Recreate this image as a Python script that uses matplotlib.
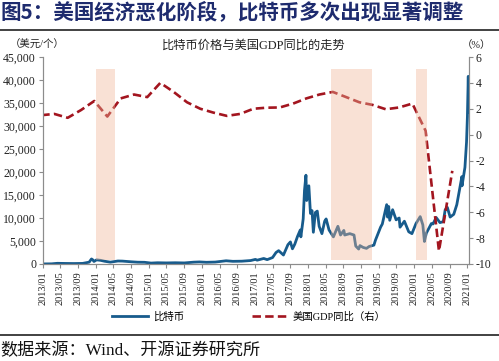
import matplotlib
matplotlib.use("Agg")
import matplotlib.pyplot as plt
from matplotlib.ticker import FuncFormatter, MultipleLocator
from matplotlib.lines import Line2D
import pandas as pd

# ---------------- data ----------------
btc_dates = [
    "2013-01-01", "2013-03-01", "2013-04-10", "2013-06-01", "2013-08-01", "2013-10-01",
    "2013-11-15", "2013-12-01", "2013-12-10", "2013-12-18", "2014-01-05", "2014-02-01",
    "2014-03-01", "2014-04-10", "2014-06-01", "2014-07-01", "2014-09-01", "2014-10-15",
    "2014-12-01", "2015-01-15", "2015-03-01", "2015-05-01", "2015-07-01", "2015-09-01",
    "2015-11-05", "2015-12-15", "2016-02-01", "2016-04-01", "2016-06-15", "2016-08-01",
    "2016-10-01", "2016-12-01", "2017-01-03", "2017-01-15", "2017-03-01", "2017-03-25",
    "2017-05-01", "2017-05-25", "2017-06-12", "2017-07-15", "2017-08-15", "2017-09-01",
    "2017-09-15", "2017-10-01", "2017-10-20", "2017-11-08", "2017-11-12", "2017-11-28",
    "2017-12-07", "2017-12-17", "2017-12-22", "2018-01-06", "2018-01-17", "2018-01-28",
    "2018-02-06", "2018-02-20", "2018-03-05", "2018-03-18", "2018-04-06", "2018-04-25",
    "2018-05-05", "2018-05-25", "2018-06-24", "2018-07-25", "2018-08-12", "2018-09-04",
    "2018-09-10", "2018-10-15", "2018-11-13", "2018-11-25", "2018-12-15", "2018-12-24",
    "2019-01-15", "2019-02-07", "2019-02-25", "2019-03-30", "2019-04-10", "2019-05-15",
    "2019-05-27", "2019-06-26", "2019-07-02", "2019-07-10", "2019-07-17", "2019-08-06",
    "2019-08-30", "2019-09-20", "2019-09-26", "2019-10-26", "2019-11-25", "2019-12-17",
    "2020-01-14", "2020-02-12", "2020-03-01", "2020-03-12", "2020-03-25", "2020-04-29",
    "2020-05-10", "2020-06-01", "2020-06-27", "2020-07-20", "2020-08-02", "2020-08-17",
    "2020-09-05", "2020-09-30", "2020-10-21", "2020-11-05", "2020-11-25", "2020-11-26",
    "2020-12-16", "2020-12-27", "2021-01-02", "2021-01-08", "2021-01-11", "2021-01-13",
]
btc_price = [
    13, 35, 150, 120, 100, 130,
    400, 1100, 900, 550, 900, 800,
    600, 400, 650, 630, 480, 390,
    370, 200, 270, 235, 270, 230,
    400, 450, 370, 420, 700, 580,
    610, 750, 1000, 830, 1200, 950,
    1400, 2500, 2900, 1950, 4200, 4800,
    3300, 4300, 6000, 7400, 5900, 9800,
    16000, 19300, 13800, 17000, 11000, 11600,
    6900, 11200, 11500, 8200, 6600, 9300,
    9800, 7400, 5900, 8200, 6300, 7300,
    6300, 6600, 6300, 3900, 3250, 4000,
    3600, 3400, 3800, 4100, 5200, 8000,
    8700, 12900, 10200, 12500, 9500, 11800,
    9600, 10000, 8000, 9300, 7000, 6600,
    8800, 10300, 8500, 4900, 6700, 8800,
    8700, 10100, 9000, 9200, 11800, 12300,
    10200, 10800, 12900, 15500, 19000, 17000,
    21000, 26500, 32000, 40800, 33000, 37000,
]

gdp_dates = [
    "2012-12-20", "2013-03-20", "2013-06-20", "2013-09-20", "2013-12-20",
    "2014-03-20", "2014-06-20", "2014-09-20", "2014-12-20",
    "2015-03-20", "2015-06-20", "2015-09-20", "2015-12-20",
    "2016-03-20", "2016-06-20", "2016-09-20", "2016-12-20",
    "2017-03-20", "2017-06-20", "2017-09-20", "2017-12-20",
    "2018-03-20", "2018-06-20", "2018-09-20", "2018-12-20",
    "2019-03-20", "2019-06-20", "2019-09-20", "2019-12-20",
    "2020-03-20", "2020-06-20", "2020-09-20",
]
gdp_yoy = [
    1.5, 1.6, 1.3, 1.9, 2.6,
    1.4, 2.8, 3.1, 2.9,
    4.0, 3.3, 2.5, 2.0,
    1.7, 1.45, 1.6, 2.0,
    2.08, 2.1, 2.4, 2.8,
    3.1, 3.3, 2.9, 2.5,
    2.3, 1.96, 2.1, 2.4,
    0.3, -9.0, -2.8,
]

shade_periods = [("2014-01-01", "2014-05-10"), ("2018-06-05", "2019-03-20"), ("2020-01-15", "2020-03-31")]

xtick_labels = ["2013/01", "2013/05", "2013/09", "2014/01", "2014/05", "2014/09", "2015/01",
                "2015/05", "2015/09", "2016/01", "2016/05", "2016/09", "2017/01", "2017/05",
                "2017/09", "2018/01", "2018/05", "2018/09", "2019/01", "2019/05", "2019/09",
                "2020/01", "2020/05", "2020/09", "2021/01"]

# ---------------- styling ----------------
SERIF_CJK = ["Liberation Serif", "Noto Sans CJK SC"]
plt.rcParams["font.family"] = SERIF_CJK
BLUE = "#175B8C"
RED = "#A3151F"
SHADE = "#F0B698"

fig = plt.figure(figsize=(4.99, 3.61), dpi=100)
ax = fig.add_axes([43 / 499, 1 - 264 / 361, (469 - 43) / 499, (264 - 57) / 361])
ax2 = ax.twinx()

bd = pd.to_datetime(btc_dates)
gd = pd.to_datetime(gdp_dates)

ax.plot(bd, btc_price, color=BLUE, lw=2.0, zorder=2)
ax2.plot(gd, gdp_yoy, color=RED, lw=1.9, dashes=(3.2, 1.6), zorder=2)

for s, e in shade_periods:
    ax2.axvspan(pd.Timestamp(s), pd.Timestamp(e), ymin=0.02, ymax=0.94,
                color=SHADE, alpha=0.4, lw=0, zorder=5)

ax.set_xlim(pd.Timestamp("2013-01-01"), pd.Timestamp("2021-01-13"))
ax.set_ylim(0, 45000)
ax2.set_ylim(-10, 6)
ax.yaxis.set_major_locator(MultipleLocator(5000))
ax.yaxis.set_major_formatter(FuncFormatter(lambda v, p: f"{int(v):,}"))
ax2.yaxis.set_major_locator(MultipleLocator(2))
ax2.yaxis.set_major_formatter(FuncFormatter(lambda v, p: f"{int(v)}"))

xt = pd.to_datetime([l.replace("/", "-") + "-01" for l in xtick_labels])
ax.set_xticks(xt)
ax.set_xticklabels(xtick_labels, rotation=90, fontsize=7.5)

for a in (ax, ax2):
    a.spines["top"].set_visible(False)
    a.spines["left"].set_color("#8C8C8C")
    a.spines["right"].set_color("#8C8C8C")
    a.spines["bottom"].set_color("#8C8C8C")
    a.tick_params(colors="#8C8C8C", labelcolor="#222222", length=3, width=0.8)
ax.tick_params(axis="y", labelsize=8.5, pad=2)
ax2.tick_params(axis="y", labelsize=8.5, pad=2)
ax.tick_params(axis="x", pad=2)

# texts
fig.text(0.0, 1 - 12 / 361, "图5：美国经济恶化阶段，比特币多次出现显著调整", fontsize=14.8,
         fontweight="bold", color="#1E2B6E", family=["Noto Sans CJK SC"], va="center", ha="left")
fig.add_artist(Line2D([0, 1], [1 - 30 / 361] * 2, color="#333333", lw=1.3, transform=fig.transFigure))
fig.add_artist(Line2D([0, 1], [1 - 335 / 361] * 2, color="#333333", lw=1.3, transform=fig.transFigure))
fig.text(254 / 499, 1 - 46 / 361, "比特币价格与美国GDP同比的走势", fontsize=8.8, ha="center", va="center",
         color="#222222")
fig.text(10 / 499, 1 - 45 / 361, "（美元/个）", fontsize=7.5, ha="left", va="center", color="#222222")
fig.text(476 / 499, 1 - 45 / 361, "（%）", fontsize=7.5, ha="center", va="center", color="#222222")
fig.text(0.0, 1 - 351 / 361, "数据来源：Wind、开源证券研究所", fontsize=12.3, ha="left", va="center",
         color="#111111")

handles = [Line2D([], [], color=BLUE, lw=2.0),
           Line2D([], [], color=RED, lw=1.9, dashes=(3.2, 1.6))]
fig.legend(handles, ["比特币", "美国GDP同比（右）"], loc="center", bbox_to_anchor=(249 / 499, 1 - 317 / 361),
           ncol=2, frameon=False, fontsize=7.5, handlelength=3.4, columnspacing=6.5, handletextpad=0.5)

fig.savefig("out.png", dpi=100)
